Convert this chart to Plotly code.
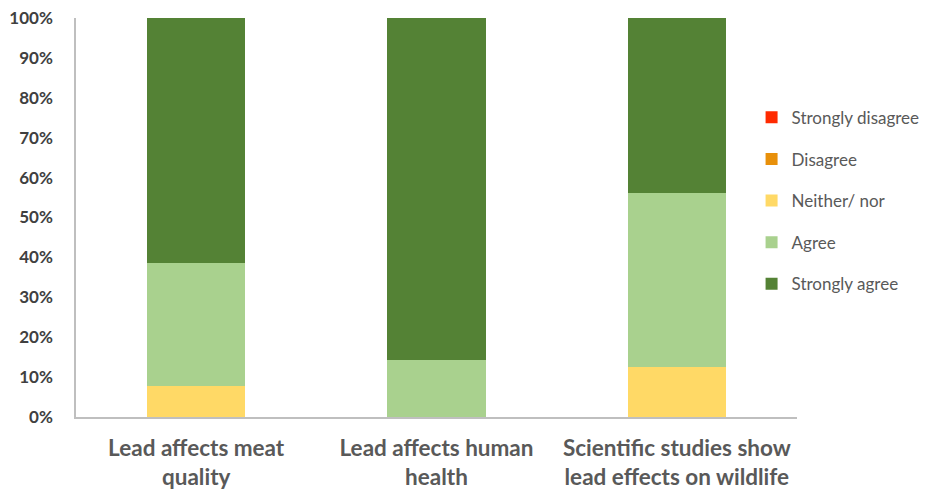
import plotly.graph_objects as go

categories = ["Lead affects meat<br>quality", "Lead affects human<br>health",
              "Scientific studies show<br>lead effects on wildlife"]
series_names = ["Strongly disagree", "Disagree", "Neither/ nor", "Agree", "Strongly agree"]
strongly_disagree = [0, 0, 0]
disagree = [0, 0, 0]
neither = [7.7, 0, 12.5]
agree = [30.8, 14.3, 43.75]
strongly_agree = [61.5, 85.7, 43.75]
colors = ["#FF2A00", "#E8900A", "#FFD966", "#A9D18E", "#548235"]
y_ticks = list(range(0, 101, 10))
y_tick_labels = [f"{v}%" for v in y_ticks]

fig = go.Figure()
for i, (name, vals) in enumerate(zip(series_names,
                                     [strongly_disagree, disagree, neither, agree, strongly_agree])):
    fig.add_trace(go.Bar(x=categories, y=vals, name=name, marker_color=colors[i],
                         marker_line_width=0, legendgroup=name))

fig.update_layout(
    width=928, height=497,
    barmode="stack", bargap=0.59,
    plot_bgcolor="white", paper_bgcolor="white",
    margin=dict(l=68, r=139, t=10, b=88, autoexpand=False),
    font=dict(family="Lato", color="#595959"),
    legend=dict(x=0.937, xanchor="left", y=0.795, yanchor="top",
                traceorder="grouped", tracegroupgap=16.5,
                font=dict(size=17, color="#595959"), itemwidth=30,
                bgcolor="rgba(0,0,0,0)"),
    showlegend=True,
)
fig.update_yaxes(range=[0, 100], tickmode="array", tickvals=y_ticks, ticktext=y_tick_labels,
                 showgrid=False, showline=True, linecolor="#BFBFBF", linewidth=1.5,
                 tickfont=dict(size=17, color="#404040", family="Lato", weight="bold"),
                 ticklabelstandoff=18, ticklabeloverflow="allow",
                 zeroline=False, automargin=False)
fig.update_xaxes(showline=True, linecolor="#BFBFBF", linewidth=1.5, automargin=False,
                 tickfont=dict(size=22.5, color="#595959", family="Lato", weight="bold"),
                 ticklabelstandoff=10, ticklabeloverflow="allow")

fig.write_html("out.html")
